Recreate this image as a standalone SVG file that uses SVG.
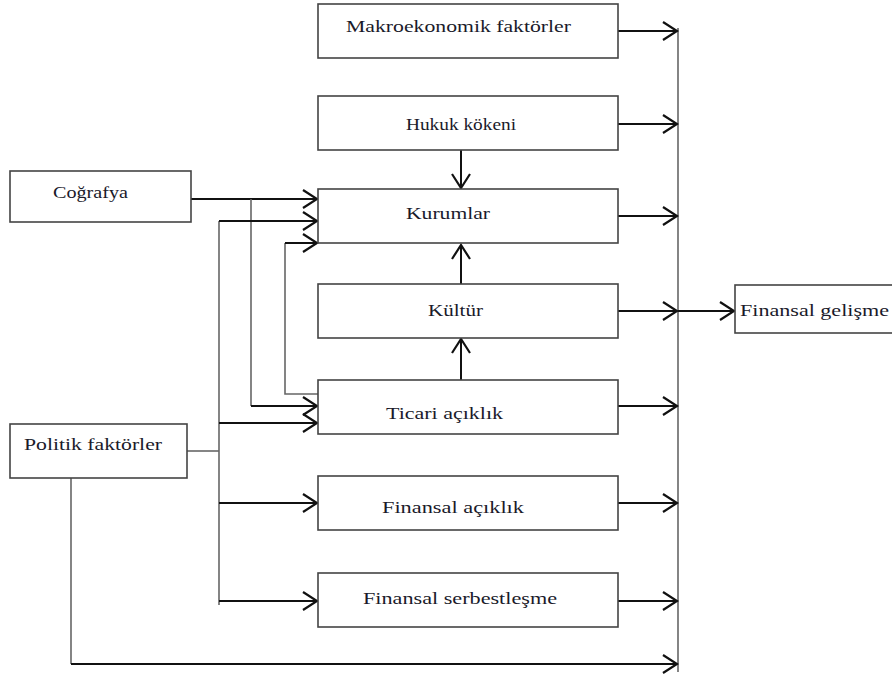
<svg xmlns="http://www.w3.org/2000/svg" width="892" height="679" viewBox="0 0 892 679">
<style>
.box{fill:#fff;stroke:#444;stroke-width:1.6}
.t{font-family:"Liberation Serif","DejaVu Serif",serif;font-size:17px;fill:#1a1a2a}
.a{fill:none;stroke:#111;stroke-width:2}
.g{fill:none;stroke:#666;stroke-width:1.6}
</style>
<defs>
<marker id="ah" markerUnits="userSpaceOnUse" viewBox="-16 -11 18 22" refX="0" refY="0" markerWidth="18" markerHeight="22" orient="auto">
<path d="M-14,-9 L0,0 L-14,9" fill="none" stroke="#111" stroke-width="2.2"/>
</marker>
</defs>
<rect width="892" height="679" fill="#fff"/>
<g id="connectors">
<line class="g" x1="678" y1="28" x2="678" y2="672"/>
<line class="a" x1="618" y1="31" x2="677" y2="31" marker-end="url(#ah)"/>
<line class="a" x1="618" y1="124" x2="677" y2="124" marker-end="url(#ah)"/>
<line class="a" x1="618" y1="216" x2="677" y2="216" marker-end="url(#ah)"/>
<line class="a" x1="618" y1="311" x2="677" y2="311" marker-end="url(#ah)"/>
<line class="a" x1="618" y1="406" x2="677" y2="406" marker-end="url(#ah)"/>
<line class="a" x1="618" y1="503" x2="677" y2="503" marker-end="url(#ah)"/>
<line class="a" x1="618" y1="601" x2="677" y2="601" marker-end="url(#ah)"/>
<line class="a" x1="678" y1="311" x2="734" y2="311" marker-end="url(#ah)"/>
<line class="a" x1="461" y1="150" x2="461" y2="188" marker-end="url(#ah)"/>
<line class="a" x1="461" y1="284" x2="461" y2="245" marker-end="url(#ah)"/>
<line class="a" x1="461" y1="380" x2="461" y2="339" marker-end="url(#ah)"/>
<line class="a" x1="191" y1="199" x2="317" y2="199" marker-end="url(#ah)"/>
<polyline class="g" points="251,199 251,406"/>
<line class="a" x1="251" y1="406" x2="317" y2="406" marker-end="url(#ah)"/>
<polyline class="g" points="187,451 219,451"/>
<polyline class="g" points="219,221 219,605"/>
<line class="a" x1="219" y1="221" x2="317" y2="221" marker-end="url(#ah)"/>
<polyline class="g" points="318,394 285,394 285,243"/>
<line class="a" x1="285" y1="243" x2="317" y2="243" marker-end="url(#ah)"/>
<line class="a" x1="219" y1="423" x2="317" y2="423" marker-end="url(#ah)"/>
<line class="a" x1="219" y1="503" x2="317" y2="503" marker-end="url(#ah)"/>
<line class="a" x1="219" y1="601" x2="317" y2="601" marker-end="url(#ah)"/>
<polyline class="g" points="71,478 71,664"/>
<line class="a" x1="71" y1="664" x2="677" y2="664" marker-end="url(#ah)"/>
</g>
<g id="makro"><rect class="box" x="318" y="4" width="300" height="54"/><text class="t" x="346" y="32" textLength="225" lengthAdjust="spacingAndGlyphs">Makroekonomik faktörler</text></g>
<g id="hukuk"><rect class="box" x="318" y="96" width="300" height="54"/><text class="t" x="406" y="130" textLength="110" lengthAdjust="spacingAndGlyphs">Hukuk kökeni</text></g>
<g id="kurumlar"><rect class="box" x="318" y="189" width="300" height="54"/><text class="t" x="406" y="219" textLength="84" lengthAdjust="spacingAndGlyphs">Kurumlar</text></g>
<g id="kultur"><rect class="box" x="318" y="284" width="300" height="54"/><text class="t" x="428" y="316" textLength="55" lengthAdjust="spacingAndGlyphs">Kültür</text></g>
<g id="ticari"><rect class="box" x="318" y="380" width="300" height="54"/><text class="t" x="386" y="419" textLength="117" lengthAdjust="spacingAndGlyphs">Ticari açıklık</text></g>
<g id="finacik"><rect class="box" x="318" y="476" width="300" height="54"/><text class="t" x="382" y="513" textLength="142" lengthAdjust="spacingAndGlyphs">Finansal açıklık</text></g>
<g id="finserbest"><rect class="box" x="318" y="573" width="300" height="54"/><text class="t" x="363" y="604" textLength="194" lengthAdjust="spacingAndGlyphs">Finansal serbestleşme</text></g>
<g id="cografya"><rect class="box" x="10" y="171" width="181" height="51"/><text class="t" x="53" y="198" textLength="75" lengthAdjust="spacingAndGlyphs">Coğrafya</text></g>
<g id="politik"><rect class="box" x="10" y="424" width="177" height="54"/><text class="t" x="24" y="450" textLength="138" lengthAdjust="spacingAndGlyphs">Politik faktörler</text></g>
<g id="fingelisme"><rect class="box" x="735" y="285" width="160" height="48"/><text class="t" x="740" y="316" textLength="149" lengthAdjust="spacingAndGlyphs">Finansal gelişme</text></g>
</svg>
